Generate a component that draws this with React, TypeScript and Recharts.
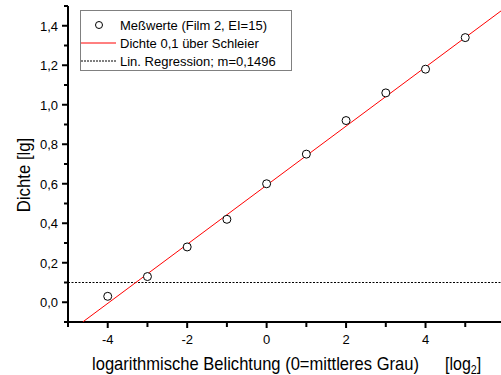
import { ScatterChart, Scatter, XAxis, YAxis, ReferenceLine, Legend, Label } from 'recharts'

const exposure = [-4, -3, -2, -1, 0, 1, 2, 3, 4, 5]
const density = [0.03, 0.13, 0.28, 0.42, 0.6, 0.75, 0.92, 1.06, 1.18, 1.34]

// end points of the red line
const fitX = [-4.63, 5.9]
const fitY = [-0.1, 1.475]

const threshold = 0.1

const xTicks = [-5, -4, -3, -2, -1, 0, 1, 2, 3, 4, 5]
const yTicks = [-0.1, 0, 0.1, 0.2, 0.3, 0.4, 0.5, 0.6, 0.7, 0.8, 0.9, 1.0, 1.1, 1.2, 1.3, 1.4, 1.5]

const legendLabels = ['Meßwerte (Film 2, EI=15)', 'Dichte 0,1 über Schleier', 'Lin. Regression; m=0,1496']

const points = exposure.map((x, i) => ({ x, y: density[i] }))
const fitLine = fitX.map((x, i) => ({ x, y: fitY[i] }))

const FONT = '"Liberation Sans", Arial, sans-serif'

const XTick = ({ x, y, payload }: any) => {
  const v = payload.value
  const major = Math.round(v) % 2 === 0
  return (
    <g>
      <line x1={x} x2={x} y1={y} y2={y + (major ? 6 : 5)} stroke="#000" strokeWidth={2} />
      {major && (
        <text x={x} y={y + 22} textAnchor="middle" fontSize={13} fontFamily={FONT} fill="#000">
          {v}
        </text>
      )}
    </g>
  )
}

const YTick = ({ x, y, payload }: any) => {
  const v = payload.value
  const major = Math.round(v * 10) % 2 === 0
  return (
    <g>
      <line x1={x} x2={x - (major ? 6 : 4)} y1={y} y2={y} stroke="#000" strokeWidth={2} />
      {major && (
        <text x={x - 10} y={y + 5} textAnchor="end" fontSize={13} fontFamily={FONT} fill="#000">
          {v.toFixed(1).replace('.', ',')}
        </text>
      )}
    </g>
  )
}

// the reference's lettering is a little narrower than it is tall
const YTitle = ({ viewBox }: any) => {
  const cx = viewBox.x + 30
  const cy = viewBox.y + viewBox.height / 2 + 11
  return (
    <g transform={`translate(${cx} ${cy}) rotate(-90) scale(0.93 1)`}>
      <text x={0} y={0} textAnchor="middle" fontSize={18} fontFamily={FONT} fill="#000">
        Dichte [lg]
      </text>
    </g>
  )
}

const XTitle = ({ viewBox }: any) => {
  const y = viewBox.y + 48
  return (
    <g fontFamily={FONT} fontSize={18} fill="#000">
      <g transform={`translate(92 ${y}) scale(0.92 1)`}>
        <text x={0} y={0}>logarithmische Belichtung (0=mittleres Grau)</text>
      </g>
      <g transform={`translate(445 ${y}) scale(0.89 1)`}>
        <text x={0} y={0}>
          [log
          <tspan dy={4} fontSize={12}>2</tspan>
          <tspan dy={-4}>]</tspan>
        </text>
      </g>
    </g>
  )
}

const LegendBox = () => (
  <div
    style={{
      width: 212,
      height: 61,
      boxSizing: 'border-box',
      border: '1px solid #808080',
      background: '#fff',
      paddingTop: 5,
      fontFamily: FONT,
      fontSize: 13,
      color: '#000',
    }}
  >
    {legendLabels.map((label, i) => (
      <div key={label} style={{ display: 'flex', alignItems: 'center', height: 18 }}>
        <svg width={36} height={18} style={{ flex: 'none' }}>
          {i === 0 && <circle cx={18} cy={9} r={3.5} fill="#fff" stroke="#000" strokeWidth={1} />}
          {i === 1 && <line x1={0} x2={35} y1={9} y2={9} stroke="#ff0000" strokeWidth={1} />}
          {i === 2 && <line x1={0} x2={35} y1={9} y2={9} stroke="#000" strokeWidth={1} strokeDasharray="2 1" />}
        </svg>
        <span style={{ marginLeft: 3, whiteSpace: 'nowrap' }}>{label}</span>
      </div>
    ))}
  </div>
)

const Ring = ({ cx, cy }: any) => <circle cx={cx} cy={cy} r={4} fill="#fff" stroke="#000" strokeWidth={1} />
const NoShape = () => <g />

export default function App() {
  return (
    <div style={{ position: 'absolute', left: 0, top: 0, width: 501, height: 375, background: '#fff' }}>
      <ScatterChart width={501} height={375} margin={{ top: 6, right: 0, bottom: 0, left: 0 }}>
        <XAxis
          type="number"
          dataKey="x"
          domain={[-5, 5.9]}
          ticks={xTicks}
          interval={0}
          allowDataOverflow
          height={53}
          tickSize={0}
          tickMargin={0}
          tickLine={false}
          axisLine={{ stroke: '#000', strokeWidth: 2 }}
          tick={<XTick />}
        >
          <Label content={<XTitle />} />
        </XAxis>
        <YAxis
          type="number"
          dataKey="y"
          domain={[-0.1, 1.5]}
          ticks={yTicks}
          interval={0}
          allowDataOverflow
          width={68}
          tickSize={0}
          tickMargin={0}
          tickLine={false}
          axisLine={{ stroke: '#000', strokeWidth: 2 }}
          tick={<YTick />}
        >
          <Label content={<YTitle />} />
        </YAxis>
        <ReferenceLine y={threshold} stroke="#000" strokeWidth={1} strokeDasharray="2 1.5" />
        <Scatter
          data={fitLine}
          line={{ stroke: '#ff0000', strokeWidth: 1 }}
          shape={<NoShape />}
          isAnimationActive={false}
        />
        <Scatter data={points} shape={<Ring />} isAnimationActive={false} />
        <Legend
          layout="vertical"
          align="center"
          verticalAlign="middle"
          content={<LegendBox />}
          wrapperStyle={{ top: 10, left: 80, width: 212, height: 61 }}
        />
      </ScatterChart>
    </div>
  )
}
